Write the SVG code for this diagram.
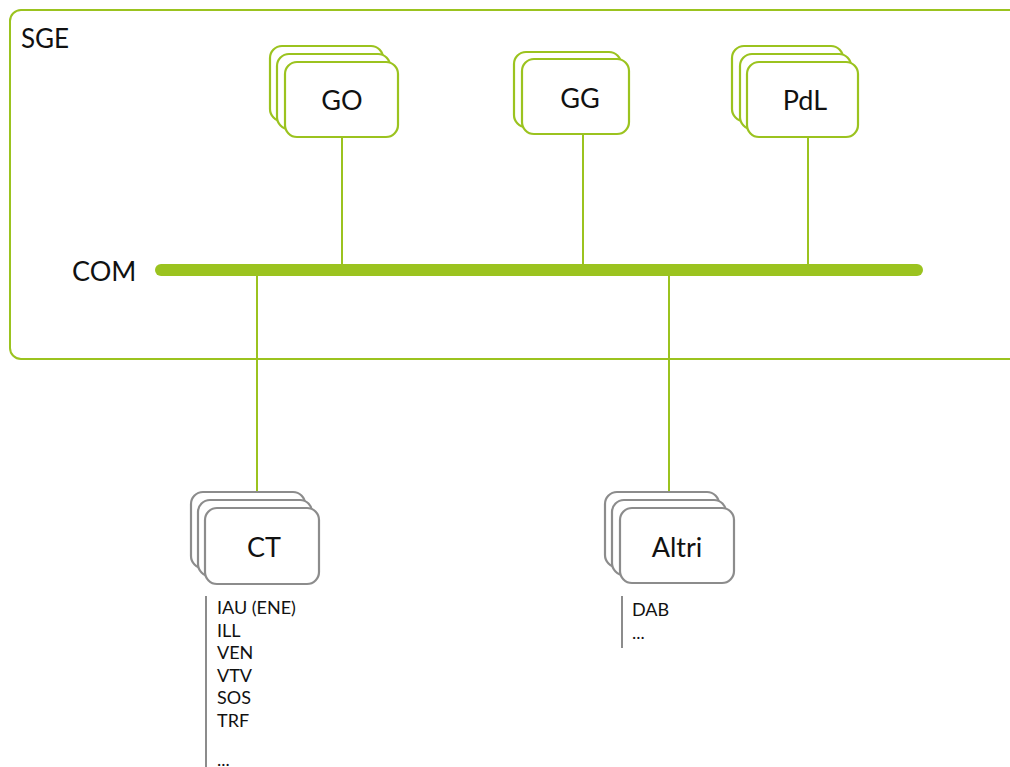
<svg xmlns="http://www.w3.org/2000/svg" width="1010" height="767" viewBox="0 0 1010 767">
  <style>
    .frame { fill: none; stroke: #9bc31f; stroke-width: 2; }
    .gbox { fill: #ffffff; stroke: #9bc31f; stroke-width: 2.2; }
    .kbox { fill: #ffffff; stroke: #8c8c8c; stroke-width: 2.2; }
    .glink { stroke: #9bc31f; stroke-width: 2; fill: none; }
    .klink { stroke: #8c8c8c; stroke-width: 2; fill: none; }
    .bus { stroke: #9bc31f; stroke-width: 12; stroke-linecap: round; fill: none; }
    text { font-family: Lato, "Open Sans", "Liberation Sans", sans-serif; fill: #111111; }
    .title { font-size: 26px; }
    .label { font-size: 27px; text-anchor: middle; }
    .item { font-size: 18px; }
  </style>

  <!-- SGE system boundary -->
  <g id="sge">
    <rect class="frame" x="10" y="10" width="1010" height="349" rx="11"/>
    <text class="title" x="21" y="48">SGE</text>
    <text class="title" x="72" y="281" style="font-size:27px">COM</text>
  </g>

  <!-- connectors -->
  <g id="connectors">
    <line class="glink" x1="342" y1="137" x2="342" y2="270"/>
    <line class="glink" x1="583" y1="134" x2="583" y2="270"/>
    <line class="glink" x1="808" y1="136" x2="808" y2="270"/>
    <line class="glink" x1="257" y1="270" x2="257" y2="493"/>
    <line class="glink" x1="669" y1="270" x2="669" y2="493"/>
    <line class="bus" x1="161" y1="270" x2="917" y2="270"/>
    <line class="klink" x1="206" y1="596" x2="206" y2="767"/>
    <line class="klink" x1="622" y1="596" x2="622" y2="648"/>
  </g>

  <!-- GO stack -->
  <g id="go">
    <rect class="gbox" x="270" y="46" width="113" height="75" rx="12"/>
    <rect class="gbox" x="277" y="54" width="113" height="75" rx="12"/>
    <rect class="gbox" x="285" y="62" width="113" height="75" rx="12"/>
    <text class="label" x="342" y="110">GO</text>
  </g>

  <!-- GG stack -->
  <g id="gg">
    <rect class="gbox" x="514" y="52" width="107" height="75" rx="12"/>
    <rect class="gbox" x="522" y="59" width="107" height="75" rx="12"/>
    <text class="label" x="580" y="108">GG</text>
  </g>

  <!-- PdL stack -->
  <g id="pdl">
    <rect class="gbox" x="732" y="46" width="111" height="75" rx="12"/>
    <rect class="gbox" x="740" y="54" width="111" height="75" rx="12"/>
    <rect class="gbox" x="747" y="62" width="111" height="75" rx="12"/>
    <text class="label" x="805" y="110">PdL</text>
  </g>

  <!-- CT stack -->
  <g id="ct">
    <rect class="kbox" x="191" y="492" width="114" height="76" rx="12"/>
    <rect class="kbox" x="198" y="500" width="114" height="76" rx="12"/>
    <rect class="kbox" x="205" y="508" width="114" height="76" rx="12"/>
    <text class="label" x="264" y="557">CT</text>
    <text class="item" x="217" y="614">IAU (ENE)</text>
    <text class="item" x="217" y="637">ILL</text>
    <text class="item" x="217" y="659">VEN</text>
    <text class="item" x="217" y="682">VTV</text>
    <text class="item" x="217" y="704">SOS</text>
    <text class="item" x="217" y="727">TRF</text>
    <text class="item" x="217" y="766">...</text>
  </g>

  <!-- Altri stack -->
  <g id="altri">
    <rect class="kbox" x="605" y="492" width="114" height="75" rx="12"/>
    <rect class="kbox" x="612" y="500" width="114" height="75" rx="12"/>
    <rect class="kbox" x="620" y="508" width="114" height="75" rx="12"/>
    <text class="label" x="677" y="557">Altri</text>
    <text class="item" x="632" y="616">DAB</text>
    <text class="item" x="632" y="639">...</text>
  </g>
</svg>
